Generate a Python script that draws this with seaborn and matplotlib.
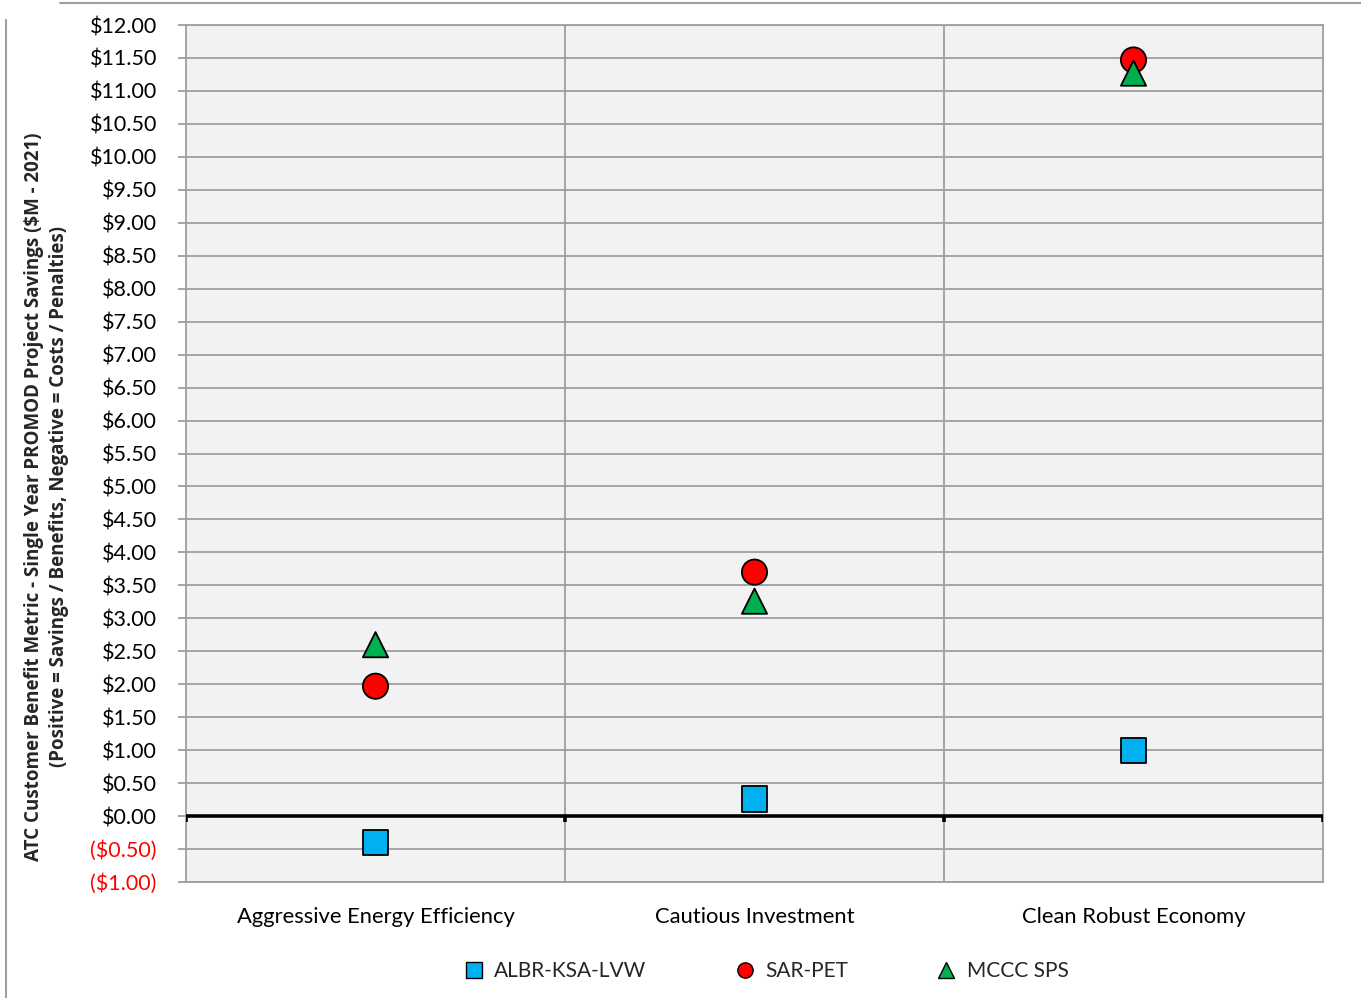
import matplotlib
matplotlib.use("Agg")
import matplotlib.pyplot as plt
from matplotlib.lines import Line2D
from matplotlib.ticker import FuncFormatter, MultipleLocator, FixedLocator
import seaborn as sns
import pandas as pd

# Scenario categories and project savings ($M, 2021)
scenarios = ["Aggressive Energy Efficiency", "Cautious Investment", "Clean Robust Economy"]
albr_ksa_lvw = [-0.40, 0.26, 1.00]
sar_pet = [1.97, 3.70, 11.47]
mccc_sps = [2.60, 3.26, 11.27]
projects = ["ALBR-KSA-LVW", "SAR-PET", "MCCC SPS"]

df = pd.DataFrame({
    "scenario": scenarios * 3,
    "savings": albr_ksa_lvw + sar_pet + mccc_sps,
    "project": [p for p in projects for _ in scenarios],
})

sns.set_theme(style="white")
plt.rcParams["font.family"] = ["Lato", "DejaVu Sans"]

fig = plt.figure(figsize=(13.61, 9.98), dpi=100)
ax = fig.add_axes([186 / 1361, 1 - 882 / 998, (1323 - 186) / 1361, (882 - 25) / 998])
ax.set_facecolor("#F2F2F2")

palette = {"ALBR-KSA-LVW": "#00B0F0", "SAR-PET": "#FF0000", "MCCC SPS": "#00B050"}
markers = {"ALBR-KSA-LVW": "s", "SAR-PET": "o", "MCCC SPS": "^"}

# Horizontal gridlines and category dividers
grid_color = "#9E9E9E"
ax.set_ylim(-1.0, 12.0)
ax.set_xlim(-0.5, 2.5)
ax.yaxis.set_major_locator(MultipleLocator(0.5))
ax.xaxis.set_major_locator(FixedLocator([0, 1, 2]))
ax.xaxis.set_minor_locator(FixedLocator([0.5, 1.5]))
ax.grid(axis="y", which="major", color=grid_color, lw=1.3, zorder=0)
ax.grid(axis="x", which="minor", color=grid_color, lw=1.3, zorder=0)
ax.set_axisbelow(True)

sns.scatterplot(data=df, x="scenario", y="savings", hue="project", style="project",
                palette=palette, markers=markers, s=330, edgecolor="black",
                linewidth=1.3, ax=ax, legend=False, zorder=5)
ax.set_xlim(-0.5, 2.5)
ax.set_ylim(-1.0, 12.0)

# Zero baseline with small division ticks
ax.axhline(0, color="black", lw=2.6, zorder=3)
ax.vlines([-0.5, 0.5, 1.5, 2.5], -0.09, 0, color="black", lw=2.6, zorder=3)

def money(v, _pos):
    if v < -1e-9:
        return f"(${abs(v):.2f})"
    return f"${v:.2f}"

ax.yaxis.set_major_formatter(FuncFormatter(money))
ax.tick_params(axis="y", which="major", length=6, color=grid_color, width=1.3,
               labelsize=15.5, labelcolor="black", pad=15, left=True, direction="out")
ax.tick_params(axis="x", which="both", length=0, labelsize=15.8, pad=18, colors="black")
for lab in ax.get_yticklabels():
    if lab.get_text().startswith("("):
        lab.set_color("#FF0000")

for side in ["left", "right", "top", "bottom"]:
    ax.spines[side].set_color(grid_color)
    ax.spines[side].set_linewidth(1.3)

ax.set_xlabel("")
ax.set_ylabel("ATC Customer Benefit Metric - Single Year PROMOD Project Savings ($M - 2021)\n"
              "(Positive = Savings / Benefits, Negative = Costs / Penalties)",
              fontsize=13.5, fontweight="bold", family=["Open Sans", "DejaVu Sans"],
              linespacing=1.3)
ax.yaxis.set_label_coords(-0.103, 0.45)

handles = [Line2D([], [], ls="none", marker=markers[p], markerfacecolor=palette[p],
                  markeredgecolor="black", markeredgewidth=1.0, markersize=11) for p in projects]
fig.legend(handles, projects, loc="center", bbox_to_anchor=(766 / 1361, 1 - 971 / 998),
           ncol=3, frameon=False, fontsize=15, handletextpad=0.5, columnspacing=4.2,
           handlelength=1.0)

# Outer chart frame edges
fig.add_artist(Line2D([6 / 1361, 6 / 1361], [0, 1 - 20 / 998], transform=fig.transFigure,
                      color="#A0A0A0", lw=1.5))
fig.add_artist(Line2D([60 / 1361, 1], [1 - 3 / 998, 1 - 3 / 998], transform=fig.transFigure,
                      color="#A0A0A0", lw=1.5))

fig.savefig("out.png", dpi=100)
